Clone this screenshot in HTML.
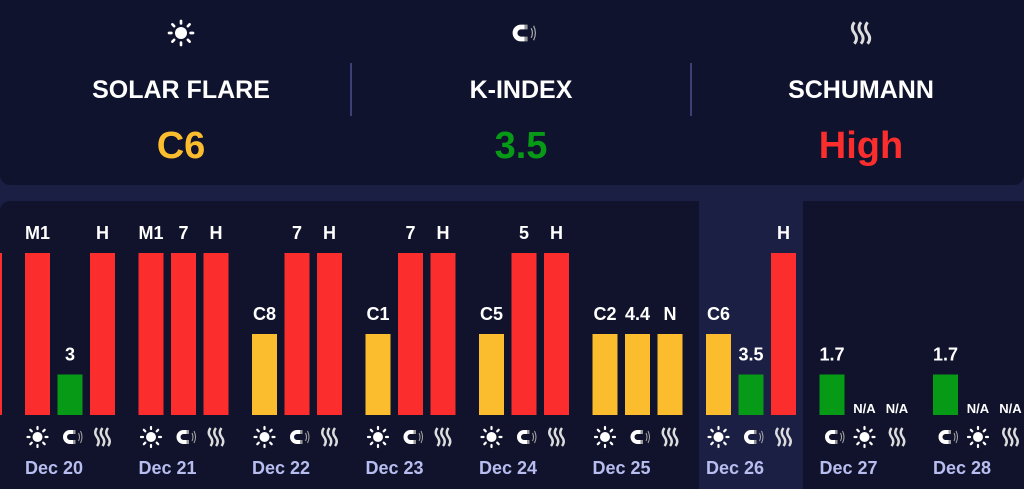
<!DOCTYPE html>
<html><head><meta charset="utf-8"><style>
body{margin:0;width:1024px;height:489px;background:#1c1f44;overflow:hidden;font-family:"Liberation Sans",sans-serif}
#top{position:absolute;left:0;top:0;width:1024px;height:185px;background:#10132d;border-radius:0 0 10px 10px}
#bot{position:absolute;left:0;top:201px;width:1024px;height:288px;background:#10132b;border-radius:10px 0 0 0}
svg{position:absolute;left:0;top:0}
</style></head><body>
<div id="top"></div>
<div id="bot"></div>
<svg id="c" width="1024" height="489">
<defs>
<g id="sun"><circle r="5" fill="#fff"/><g stroke="#fff" stroke-width="2.2" stroke-linecap="round"><line x1="0" y1="-8" x2="0" y2="-10"/><line x1="0" y1="8" x2="0" y2="10"/><line x1="-8" y1="0" x2="-10" y2="0"/><line x1="8" y1="0" x2="10" y2="0"/><line x1="5.7" y1="5.7" x2="7.2" y2="7.2"/><line x1="-5.7" y1="-5.7" x2="-7.2" y2="-7.2"/><line x1="5.7" y1="-5.7" x2="7.2" y2="-7.2"/><line x1="-5.7" y1="5.7" x2="-7.2" y2="7.2"/></g></g>
<g id="mag"><path d="M3,-5 H0 A5,5 0 0 0 0,5 H3" fill="none" stroke="#fff" stroke-width="4"/><path d="M3,-5 h2.5 M3,5 h2.5" stroke="#999" stroke-width="4"/><path d="M8.5,-4 Q10.5,0 8.5,4 M10.5,-6 Q13.5,0 10.5,6" fill="none" stroke="#aaa" stroke-width="1"/></g>
<g id="wav" fill="none" stroke="#ddd" stroke-width="2.4"><path d="M-5.5,-9 q-3.5,4.5 0,9 q3.5,4.5 0,9"/><path d="M0,-9 q-3.5,4.5 0,9 q3.5,4.5 0,9"/><path d="M5.5,-9 q-3.5,4.5 0,9 q3.5,4.5 0,9"/></g>
</defs>
<g id="hdr"></g>
<rect x="699" y="190" width="104" height="299" fill="#1c1f44"/>
<rect x="0" y="253" width="2" height="162" fill="#fb2d2d"/>
<g id="bars"></g>
</svg>
<script>
const days=["Dec 20","Dec 21","Dec 22","Dec 23","Dec 24","Dec 25","Dec 26","Dec 27","Dec 28"];
const solarLabels=["M1","M1","C8","C1","C5","C2","C6","N/A","N/A"];
const solarLevel=[4,4,2,2,2,2,2,0,0];
const kLabels=["3","7","7","7","5","4.4","3.5","1.7","1.7"];
const kLevel=[1,4,4,4,4,2,1,1,1];
const schLabels=["H","H","H","H","H","N","H","N/A","N/A"];
const schLevel=[4,4,4,4,4,2,4,0,0];
const summaryTitles=["SOLAR FLARE","K-INDEX","SCHUMANN"];
const summaryValues=["C6","3.5","High"];
const summaryColors=["#fbbc2e","#069a17","#fb2d2d"];
const NS="http://www.w3.org/2000/svg";
const base=415,fullH=162,maxLevel=4;
const y=v=>base-v/maxLevel*fullH;
const gx=i=>25+i*113.5;
const colorFor=l=>l>=4?"#fb2d2d":l>=2?"#fbbc2e":"#069a17";
function mk(t,a,p){const e=document.createElementNS(NS,t);for(const k in a)e.setAttribute(k,a[k]);(p||document.getElementById('bars')).appendChild(e);return e;}
const hdr=document.getElementById('hdr');
const icons=["sun","mag","wav"];
summaryTitles.forEach((t,i)=>{const cx=181+i*340;
 const ic=mk('use',{href:'#'+icons[i],transform:`translate(${cx},33) scale(1.2)`},hdr);
 
 
 const a=mk('text',{x:cx,y:98,'text-anchor':'middle',fill:'#fff','font-size':25,'font-weight':'bold'},hdr);a.textContent=t;
 
 
 const b=mk('text',{x:cx,y:158,'text-anchor':'middle',fill:summaryColors[i],'font-size':38,'font-weight':'bold'},hdr);b.textContent=summaryValues[i];
 
 
 if(i<2){const d=mk('line',{x1:cx+170,y1:63,x2:cx+170,y2:116,stroke:'#4a5090','stroke-width':1.5},hdr);
 
 }
});
days.forEach((d,i)=>{const x0=gx(i);
 let series=[[solarLevel[i],solarLabels[i],'sun'],[kLevel[i],kLabels[i],'mag'],[schLevel[i],schLabels[i],'wav']];
 if(solarLevel[i]===0) series=[series[1],series[0],series[2]];
 series.forEach((s,j)=>{const bx=x0+j*32.5;
  if(s[0]>0){const r=mk('rect',{x:bx,y:y(s[0]),width:25,height:base-y(s[0]),fill:colorFor(s[0])});
   
   }
  const na=s[0]===0;
  const t=mk('text',{x:bx+12.5,y:na?413:y(s[0])-14,'text-anchor':'middle',fill:'#fff','font-size':na?13:18,'font-weight':'bold'});t.textContent=s[1];
  
  
  const ic=mk('use',{href:'#'+s[2],transform:`translate(${bx+12.5},437)`});
  
  
 });
 const t=mk('text',{x:x0,y:474,fill:'#b8bdf0','font-size':18,'font-weight':'bold'});t.textContent=d;
 
 
});
</script>
</body></html>
